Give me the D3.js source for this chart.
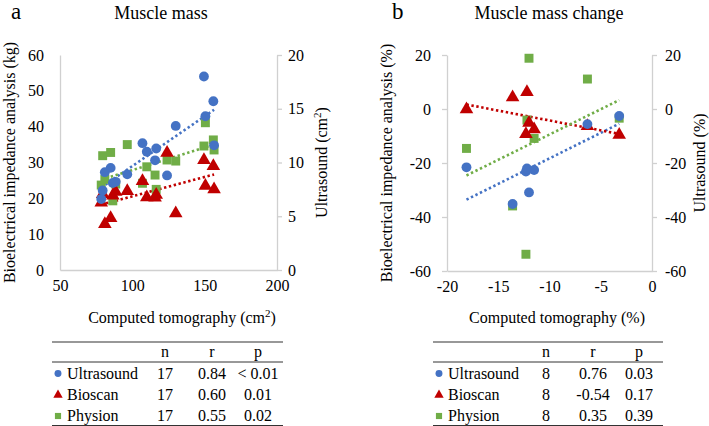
<!DOCTYPE html>
<html>
<head>
<meta charset="utf-8">
<script src="https://cdn.jsdelivr.net/npm/d3@7"></script>
<style>
  body { margin: 0; background: #fff; }
  text { font-family: "Liberation Serif", "Times New Roman", serif; fill: #000; }
</style>
</head>
<body>
<div id="chart"></div>
<script>
// ---- data ----
// panel a: muscle mass, CT area (cm2) for 17 patients
const ctA = [78.5, 79.5, 81, 85, 86.5, 88.5, 96.5, 107, 110, 115.7, 116.5, 124, 130, 149.5, 150.5, 156, 156.5];
const ultrasoundA = [6.6, 7.4, 9.1, 9.5, 8.1, 8.2, 8.9, 11.8, 11.0, 10.2, 11.3, 8.8, 13.4, 18.0, 14.3, 15.7, 11.6]; // cm2, right axis
const bioscanA = [18.8, 21.2, 12.8, 14.5, 20.8, 21.8, 22.0, 24.8, 20.3, 20.2, 21.0, 32.7, 15.8, 30.7, 23.5, 29.0, 22.5]; // kg
const physionA = [23.7, 31.9, 25.3, 32.8, 19.3, 24.0, 35.0, 24.2, 28.8, 26.5, 22.5, 30.7, 30.4, 34.6, 41.1, 36.3, 33.5]; // kg

// panel b: muscle mass change (%), 8 patients
const ctB = [-18.1, -13.6, -12.3, -12.2, -12.0, -11.5, -6.3, -3.2];
const ultrasoundB = [-21.6, -35.2, -23.2, -22.0, -30.9, -22.6, -5.6, -2.6];
const bioscanB = [-0.1, 4.3, -9.3, 6.3, -5.1, -7.5, -6.3, -9.6];
const physionB = [-14.6, -35.9, -53.8, -4.1, 18.8, -10.9, 11.1, -3.4];

// tick labels
const xTicksA = [50, 100, 150, 200];
const leftTicksA = [0, 10, 20, 30, 40, 50, 60];
const rightTicksA = [0, 5, 10, 15, 20];
const xTicksB = [-20, -15, -10, -5, 0];
const yTicksB = [-60, -40, -20, 0, 20];

// stats tables
const seriesNames = ["Ultrasound", "Bioscan", "Physion"];
const tableA_n = [17, 17, 17];
const tableA_r = ["0.84", "0.60", "0.55"];
const tableA_p = ["< 0.01", "0.01", "0.02"];
const tableB_n = [8, 8, 8];
const tableB_r = ["0.76", "-0.54", "0.35"];
const tableB_p = ["0.03", "0.17", "0.39"];

const colors = ["#4472C4", "#C00000", "#70AD47"];
const shapes = [d3.symbolCircle, d3.symbolTriangle, d3.symbolSquare];
const sizes = [76, 80, 80];
const axisGray = "#d0d0d0";
const fs = 16;

const svg = d3.select("#chart").append("svg")
  .attr("width", 709).attr("height", 426);
svg.append("rect").attr("width", 709).attr("height", 426).attr("fill", "#fff");

// least squares fit over the data range (Excel style linear trendline)
function fitLine(xs, ys) {
  const mx = d3.mean(xs), my = d3.mean(ys);
  let sxy = 0, sxx = 0;
  xs.forEach((x, i) => { sxy += (x - mx) * (ys[i] - my); sxx += (x - mx) * (x - mx); });
  const b = sxy / sxx;
  const [x1, x2] = d3.extent(xs);
  return [{ x: x1, y: my + b * (x1 - mx) }, { x: x2, y: my + b * (x2 - mx) }];
}

function styleAxis(g) {
  g.select(".domain").attr("stroke", axisGray).attr("stroke-width", 1.3);
  g.selectAll(".tick line").attr("stroke", axisGray).attr("stroke-width", 1.3);
  g.selectAll(".tick text").attr("font-size", fs)
    .attr("font-family", "'Liberation Serif', 'Times New Roman', serif")
    .text(function () { return this.textContent.replace("−", "-"); });
}

function drawPanel(p) {
  const x = d3.scaleLinear().domain(p.xDomain).range(p.xRange);
  const yL = d3.scaleLinear().domain(p.yDomain).range(p.yRange);
  const yR = d3.scaleLinear().domain(p.rDomain).range(p.yRange);

  // axes
  const gx = svg.append("g").attr("transform", `translate(0,${p.yRange[0]})`)
    .call(d3.axisBottom(x).tickValues(p.xTicks).tickSize(0).tickPadding(9).tickFormat(d3.format("d")));
  styleAxis(gx);
  gx.selectAll(".tick text").attr("dy", "0.75em");
  const gl = svg.append("g").attr("transform", `translate(${p.xRange[0]},0)`)
    .call(d3.axisLeft(yL).tickValues(p.yTicks).tickSizeInner(p.leftTick).tickSizeOuter(0)
      .tickPadding(16 - p.leftTick).tickFormat(d3.format("d")));
  styleAxis(gl);
  const gr = svg.append("g").attr("transform", `translate(${p.xRange[1]},0)`)
    .call(d3.axisRight(yR).tickValues(p.rTicks).tickSizeInner(5).tickSizeOuter(0)
      .tickPadding(p.rightPad).tickFormat(d3.format("d")));
  styleAxis(gr);

  // series: ultrasound on right axis, BIA devices on left axis
  const series = [
    { ys: p.us, scale: yR },
    { ys: p.bio, scale: yL },
    { ys: p.phy, scale: yL },
  ];

  // trend lines
  const line = d3.line().x(d => x(d.x));
  series.forEach((s, i) => {
    const pts = fitLine(p.ct, s.ys);
    svg.append("path")
      .attr("d", line.y(d => s.scale(d.y))(pts))
      .attr("fill", "none")
      .attr("stroke", colors[i])
      .attr("stroke-width", 2.6)
      .attr("stroke-dasharray", "2.4,2.6");
  });

  // points: physion, bioscan drawn under ultrasound
  [2, 1, 0].forEach(i => {
    const s = series[i];
    svg.append("g").selectAll("path")
      .data(p.ct.map((c, k) => ({ x: c, y: s.ys[k] })))
      .join("path")
      .attr("d", d3.symbol(shapes[i], sizes[i]))
      .attr("transform", d => `translate(${x(d.x)},${s.scale(d.y)})`)
      .attr("fill", colors[i]);
  });

  // panel letter and title
  svg.append("text").attr("x", p.letterX).attr("y", 19)
    .attr("font-size", 23).text(p.letter);
  svg.append("text").attr("x", p.titleX).attr("y", 19)
    .attr("text-anchor", "middle").attr("font-size", 18).text(p.title);

  // axis titles
  const midY = (p.yRange[0] + p.yRange[1]) / 2;
  svg.append("text")
    .attr("transform", `translate(${p.leftTitleX},${midY}) rotate(-90)`)
    .attr("text-anchor", "middle").attr("font-size", fs).text(p.leftTitle);
  svg.append("text")
    .attr("transform", `translate(${p.rightTitleX},${midY}) rotate(-90)`)
    .attr("text-anchor", "middle").attr("font-size", fs).html(p.rightTitle);
  svg.append("text").attr("x", p.xTitleX).attr("y", 323)
    .attr("text-anchor", "middle").attr("font-size", fs).html(p.xTitle);

  // stats table
  const t = p.table;
  const rule = (y, w) => svg.append("line")
    .attr("x1", t.x1).attr("x2", t.x2).attr("y1", y).attr("y2", y)
    .attr("stroke", "#333").attr("stroke-width", w);
  rule(342, 1.2);
  rule(362, 1);
  rule(425.5, 1.2);
  const head = ["n", "r", "p"];
  head.forEach((h, j) => {
    svg.append("text").attr("x", t.cols[j]).attr("y", 357)
      .attr("text-anchor", "middle").attr("font-size", fs).text(h);
  });
  const rowsY = [378.5, 400, 421];
  seriesNames.forEach((name, i) => {
    svg.append("path")
      .attr("d", d3.symbol(shapes[i], 38))
      .attr("transform", `translate(${t.markX},${rowsY[i] - 5})`)
      .attr("fill", colors[i]);
    svg.append("text").attr("x", t.labelX).attr("y", rowsY[i])
      .attr("font-size", fs).text(name);
    [t.n[i], t.r[i], t.p[i]].forEach((v, j) => {
      svg.append("text").attr("x", t.cols[j]).attr("y", rowsY[i])
        .attr("text-anchor", "middle").attr("font-size", fs).text(v);
    });
  });
}

drawPanel({
  letter: "a", letterX: 11, title: "Muscle mass", titleX: 161,
  ct: ctA, us: ultrasoundA, bio: bioscanA, phy: physionA,
  xDomain: [50, 200], xRange: [60, 277],
  yDomain: [0, 60], rDomain: [0, 20], yRange: [270, 55],
  xTicks: xTicksA, yTicks: leftTicksA, rTicks: rightTicksA, leftTick: 0, rightPad: 6,
  leftTitle: "Bioelectrical impedance analysis (kg)", leftTitleX: 15,
  rightTitle: "Ultrasound (cm<tspan dy='-6' font-size='11'>2</tspan><tspan dy='6'>)</tspan>", rightTitleX: 327,
  xTitle: "Computed tomography (cm<tspan dy='-6' font-size='11'>2</tspan><tspan dy='6'>)</tspan>", xTitleX: 182,
  table: { x1: 52, x2: 283, markX: 58, labelX: 67, cols: [165, 212, 258],
           n: tableA_n, r: tableA_r, p: tableA_p }
});

drawPanel({
  letter: "b", letterX: 392, title: "Muscle mass change", titleX: 549,
  ct: ctB, us: ultrasoundB, bio: bioscanB, phy: physionB,
  xDomain: [-20, 0], xRange: [447, 652],
  yDomain: [-60, 20], rDomain: [-60, 20], yRange: [271, 55],
  xTicks: xTicksB, yTicks: yTicksB, rTicks: yTicksB, leftTick: 5, rightPad: 8,
  leftTitle: "Bioelectrical impedance analysis (%)", leftTitleX: 392,
  rightTitle: "Ultrasound (%)", rightTitleX: 705,
  xTitle: "Computed tomography (%)", xTitleX: 557,
  table: { x1: 433, x2: 663, markX: 439, labelX: 448, cols: [546, 593, 639],
           n: tableB_n, r: tableB_r, p: tableB_p }
});
</script>
</body>
</html>
